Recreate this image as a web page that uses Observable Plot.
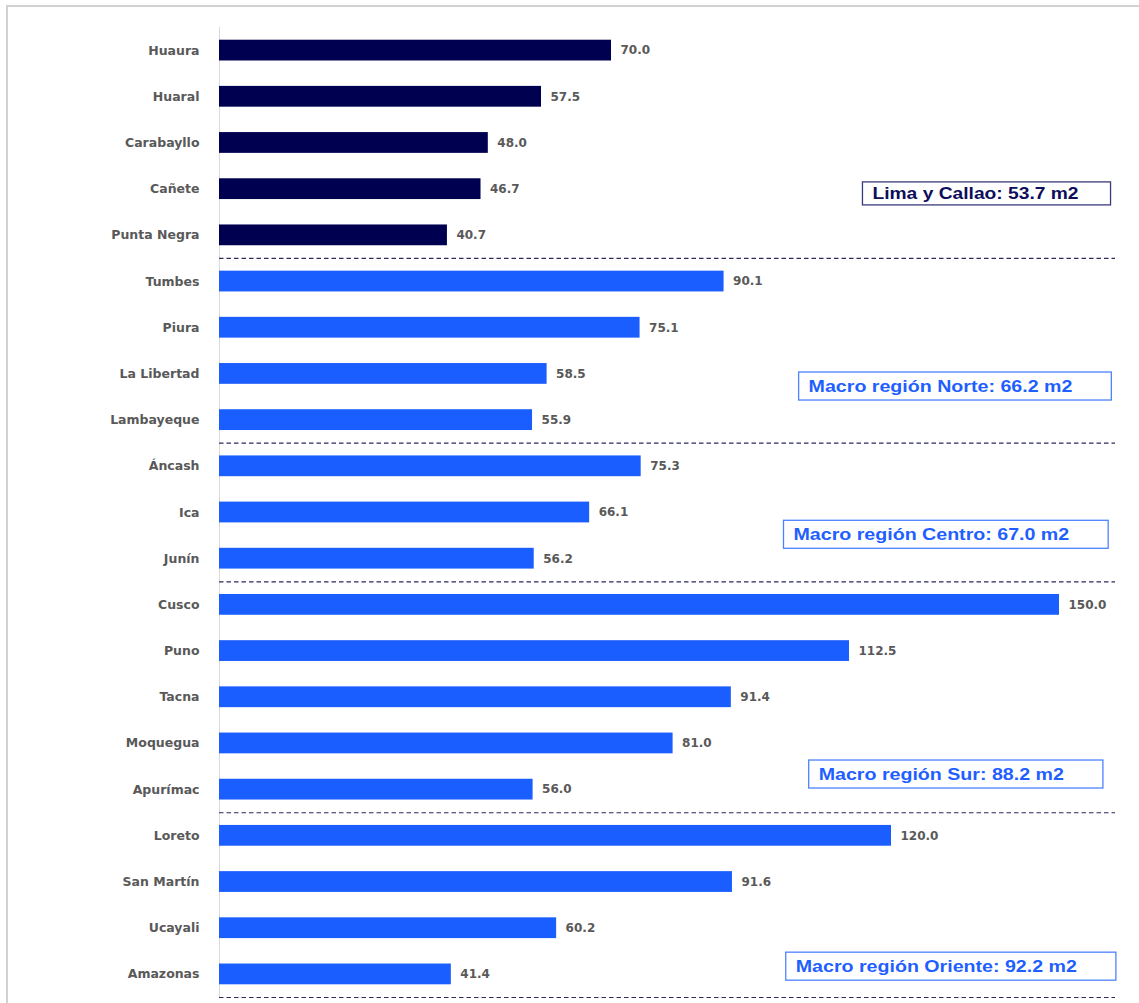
<!DOCTYPE html>
<html>
<head>
<meta charset="utf-8">
<script src="https://cdn.jsdelivr.net/npm/d3@7"></script>
<script src="https://cdn.jsdelivr.net/npm/@observablehq/plot@0.6"></script>
<style>
  html, body { margin: 0; padding: 0; background: #fff; width: 1139px; height: 1003px; overflow: hidden; }
  #wrap { position: relative; width: 1139px; height: 1003px; }
  #frame { position: absolute; left: 6px; top: 5px; width: 1200px; height: 1100px; border: 2px solid #d2d2d2; pointer-events: none; }
  #chart svg { position: absolute; left: 0; top: 0; }
</style>
</head>
<body>
<div id="wrap"><div id="chart"></div><div id="frame"></div></div>
<script>
// ---- data ----
const names = ["Huaura","Huaral","Carabayllo","Cañete","Punta Negra",
  "Tumbes","Piura","La Libertad","Lambayeque",
  "Áncash","Ica","Junín",
  "Cusco","Puno","Tacna","Moquegua","Apurímac",
  "Loreto","San Martín","Ucayali","Amazonas"];
const values = [70.0,57.5,48.0,46.7,40.7,
  90.1,75.1,58.5,55.9,
  75.3,66.1,56.2,
  150.0,112.5,91.4,81.0,56.0,
  120.0,91.6,60.2,41.4];
const groups = ["Lima y Callao","Lima y Callao","Lima y Callao","Lima y Callao","Lima y Callao",
  "Norte","Norte","Norte","Norte",
  "Centro","Centro","Centro",
  "Sur","Sur","Sur","Sur","Sur",
  "Oriente","Oriente","Oriente","Oriente"];
const groupNames = ["Lima y Callao","Norte","Centro","Sur","Oriente"];
const annoLabels = ["Lima y Callao: 53.7 m2","Macro región Norte: 66.2 m2","Macro región Centro: 67.0 m2","Macro región Sur: 88.2 m2","Macro región Oriente: 92.2 m2"];
const annoRow = [3.1, 7.27, 10.48, 15.67, 19.83];
const annoX = [116.6, 105.2, 102.5, 107, 102.9];

// ---- derived tables ----
const rows = names.map((n, i) => ({i, name: n, value: values[i], group: groups[i]}));
const separators = groupNames.map(g => d3.max(rows.filter(r => r.group === g), r => r.i) + 0.5);
const annos = annoLabels.map((t, k) => ({label: t, row: annoRow[k], x: annoX[k], group: groupNames[k]}));

const navy = "#000050", blue = "#1b5eff";
const half = 0.225;
const font = "DejaVu Sans, Verdana, sans-serif";

const chart = Plot.plot({
  width: 1139,
  height: 1003,
  marginLeft: 219,
  marginRight: 24,
  marginTop: 27,
  marginBottom: 6,
  style: {background: "transparent", fontFamily: font},
  x: {domain: [0, 160], axis: null},
  y: {domain: [-0.5, 20.5], reverse: true, axis: null},
  color: {domain: groupNames, range: [navy, blue, blue, blue, blue]},
  marks: [
    Plot.ruleX([0], {stroke: "#d9d9d9", strokeWidth: 1}),
    Plot.rect(rows, {x1: 0, x2: "value", y1: d => d.i - half, y2: d => d.i + half, fill: "group"}),
    Plot.text(rows, {x: "value", y: "i", text: d => d.value.toFixed(1), dx: 9, textAnchor: "start",
      fill: "#595959", fontWeight: "bold", fontSize: 12, fontFamily: font}),
    Plot.axisY({ticks: d3.range(names.length), tickFormat: i => names[i], tickSize: 0, tickPadding: 20,
      label: null, fontSize: 12.5, fontWeight: "bold", fill: "#595959", fontFamily: font}),
    Plot.ruleY(separators, {y: d => d, x1: 0, x2: 160, stroke: "#2b2b5e", strokeWidth: 1.2, strokeDasharray: "4.5,3"}),
    Plot.text(annos, {x: "x", y: "row", text: "label", textAnchor: "start",
      fill: d => d.group === "Lima y Callao" ? "#0d0d5c" : "#1f5fff",
      fontWeight: "bold", fontSize: 16, fontFamily: "Liberation Sans, Arial, sans-serif"})
  ]
});
document.getElementById("chart").appendChild(chart);

// boxes around the annotation texts
d3.select(chart).selectAll("text").each(function() {
  const k = annoLabels.indexOf(this.textContent);
  if (k < 0) return;
  const bb = this.getBBox();
  const isLima = groupNames[k] === "Lima y Callao";
  const w = bb.width * (isLima ? 1.2 : 1.225);
  this.setAttribute("textLength", w);
  this.setAttribute("lengthAdjust", "spacingAndGlyphs");
  const cy = bb.y + bb.height / 2;
  const hh = isLima ? 11.5 : 14;
  const rect = document.createElementNS("http://www.w3.org/2000/svg", "rect");
  rect.setAttribute("x", bb.x - 10);
  rect.setAttribute("y", cy - hh);
  rect.setAttribute("width", w + (isLima ? 42 : 49));
  rect.setAttribute("height", hh * 2);
  rect.setAttribute("fill", "white");
  rect.setAttribute("stroke", isLima ? "#3a3a7a" : "#4d82ff");
  rect.setAttribute("stroke-width", 1.3);
  const tr = this.getAttribute("transform");
  if (tr) rect.setAttribute("transform", tr);
  this.parentNode.insertBefore(rect, this);
});
</script>
</body>
</html>
